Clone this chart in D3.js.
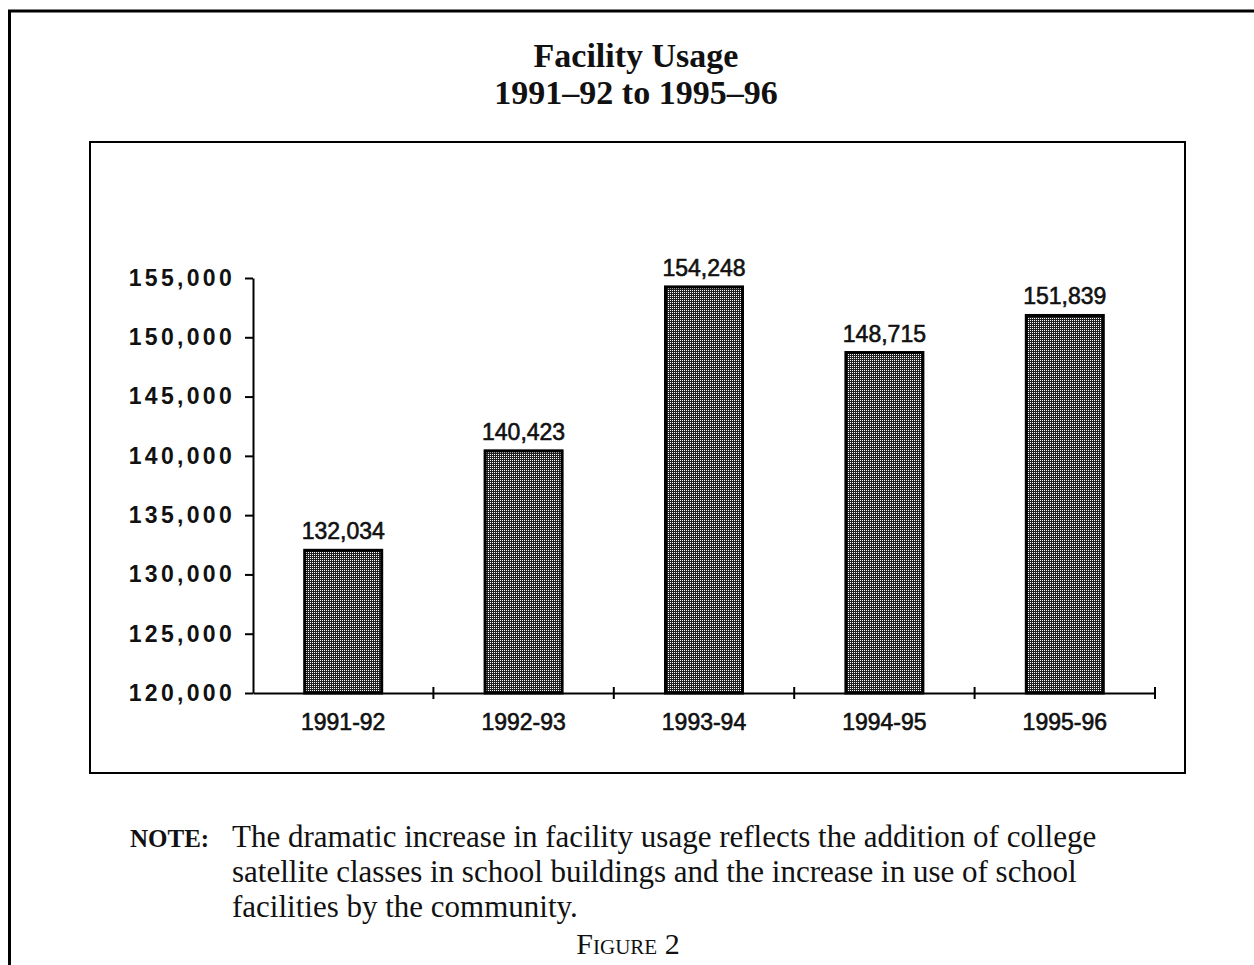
<!DOCTYPE html>
<html lang="en">
<head>
<meta charset="UTF-8">
<title>Facility Usage</title>
<script src="https://d3js.org/d3.v7.min.js"></script>
<style>
  body { margin: 0; background: #fff; }
  .ylab text { font-family: "Liberation Sans", Arial, sans-serif; font-weight: bold; font-size: 23px; letter-spacing: 3.3px; fill: #111; }
  .xlab text { font-family: "Liberation Sans", Arial, sans-serif; font-size: 23px; fill: #111; stroke: #111; stroke-width: 0.6px; }
  .val { font-family: "Liberation Sans", Arial, sans-serif; font-size: 23px; fill: #111; stroke: #111; stroke-width: 0.6px; }
  .serif { font-family: "Liberation Serif", "Times New Roman", serif; fill: #111; }
</style>
</head>
<body>
<script>
// chart data
var years = ["1991-92", "1992-93", "1993-94", "1994-95", "1995-96"];
var usage = [132034, 140423, 154248, 148715, 151839];
var yTicks = [120000, 125000, 130000, 135000, 140000, 145000, 150000, 155000];
var titleLines = ["Facility Usage", "1991\u201392 to 1995\u201396"];
var noteLines = ["The dramatic increase in facility usage reflects the addition of college",
  "satellite classes in school buildings and the increase in use of school",
  "facilities by the community."];

var svg = d3.select("body").append("svg").attr("width", 1254).attr("height", 965);

// dotted fill for the bars
var pat = svg.append("defs").append("pattern")
  .attr("id", "dots").attr("width", 4).attr("height", 4).attr("patternUnits", "userSpaceOnUse");
pat.append("rect").attr("width", 4).attr("height", 4).attr("fill", "#222");
[[0, 0], [2, 2], [0, 2], [2, 0]].forEach(function (p) {
  pat.append("rect").attr("x", p[0]).attr("y", p[1]).attr("width", 1).attr("height", 1).attr("fill", "#fff");
});

// page frame (top and left edges)
svg.append("path").attr("d", "M9.5,965 L9.5,11 L1254,11")
  .attr("fill", "none").attr("stroke", "#000").attr("stroke-width", 3);

// inner chart box
svg.append("rect").attr("x", 90).attr("y", 142).attr("width", 1095).attr("height", 631)
  .attr("fill", "none").attr("stroke", "#000").attr("stroke-width", 2);

// title
svg.append("g").selectAll("text").data(titleLines).enter().append("text")
  .attr("class", "serif")
  .attr("x", 636).attr("y", function (d, i) { return 67 + i * 37; })
  .attr("text-anchor", "middle").attr("font-weight", "bold").attr("font-size", 34)
  .text(function (d) { return d; });

var x = d3.scaleBand().domain(years).range([253, 1155]).padding(0);
var y = d3.scaleLinear().domain([120000, 155000]).range([693, 278]);
var barW = 77;

// y axis
svg.append("g").attr("class", "ylab")
  .attr("transform", "translate(253,0)")
  .call(d3.axisLeft(y).tickValues(yTicks).tickSize(8).tickSizeOuter(0).tickPadding(10)
    .tickFormat(d3.format(",")))
  .call(function (g) {
    g.select(".domain").attr("stroke", "#000").attr("stroke-width", 2);
    g.selectAll(".tick line").attr("stroke", "#000").attr("stroke-width", 2);
  });

// bars
svg.append("g").selectAll("rect").data(usage).enter().append("rect")
  .attr("x", function (d, i) { return x(years[i]) + (x.bandwidth() - barW) / 2; })
  .attr("y", function (d) { return y(d); })
  .attr("width", barW)
  .attr("height", function (d) { return y(120000) - y(d); })
  .attr("fill", "url(#dots)").attr("stroke", "#000").attr("stroke-width", 3);

// value labels
svg.append("g").selectAll("text").data(usage).enter().append("text")
  .attr("class", "val")
  .attr("x", function (d, i) { return x(years[i]) + x.bandwidth() / 2; })
  .attr("y", function (d) { return y(d) - 11; })
  .attr("text-anchor", "middle")
  .text(function (d) { return d3.format(",")(d); });

// x axis
svg.append("g").attr("class", "xlab")
  .attr("transform", "translate(0,693)")
  .call(d3.axisBottom(x).tickSize(0).tickPadding(21))
  .call(function (g) {
    g.select(".domain").attr("stroke", "#000").attr("stroke-width", 2);
  });

// category divider ticks on the x axis
var bounds = years.map(function (d) { return x(d) + x.step(); });
svg.append("g").selectAll("line").data(bounds).enter().append("line")
  .attr("x1", function (d) { return d; }).attr("x2", function (d) { return d; })
  .attr("y1", 687).attr("y2", 699)
  .attr("stroke", "#000").attr("stroke-width", 2);

// note
svg.append("text").attr("class", "serif")
  .attr("x", 130).attr("y", 847).attr("font-size", 25).attr("font-weight", "bold")
  .text("NOTE:");
svg.append("g").selectAll("text").data(noteLines).enter().append("text")
  .attr("class", "serif")
  .attr("x", 232).attr("y", function (d, i) { return 847 + i * 35; })
  .attr("font-size", 31)
  .text(function (d) { return d; });

svg.append("text").attr("class", "serif")
  .attr("x", 628).attr("y", 954).attr("text-anchor", "middle")
  .attr("font-size", 30).style("font-variant", "small-caps")
  .text("Figure 2");
</script>
</body>
</html>
